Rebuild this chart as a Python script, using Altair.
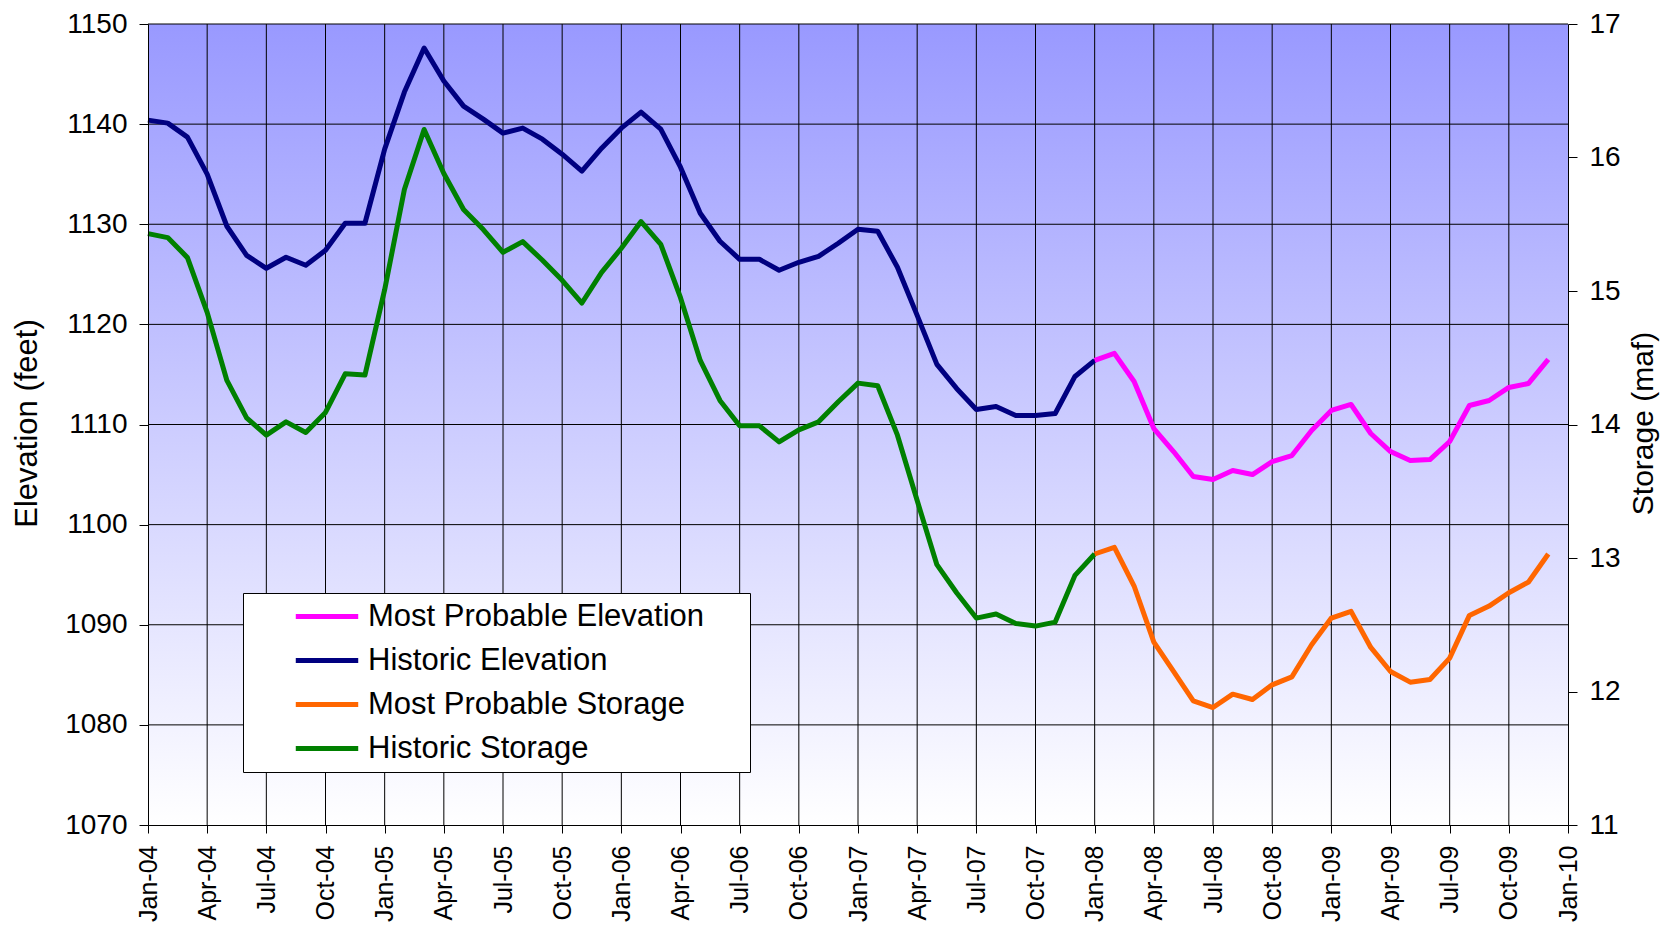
import altair as alt
import pandas as pd

# ---- data ----
month_labels = [d.strftime("%b-%y") for d in pd.date_range("2004-01-01", "2010-01-01", freq="MS")]

hist_elev = [
    1140.4, 1140.1, 1138.7, 1135.0, 1129.8, 1126.9, 1125.6, 1126.7, 1125.9, 1127.4, 1130.1, 1130.1,
    1137.5, 1143.2, 1147.6, 1144.3, 1141.8, 1140.5, 1139.1, 1139.6, 1138.5, 1137.0, 1135.3, 1137.6,
    1139.6, 1141.2, 1139.5, 1135.7, 1131.1, 1128.3, 1126.5, 1126.5, 1125.4, 1126.2, 1126.8, 1128.1,
    1129.5, 1129.3, 1125.7, 1120.9, 1116.0, 1113.6, 1111.5, 1111.8, 1110.9, 1110.9, 1111.1, 1114.8,
    1116.4,
]
prob_elev = [
    1116.4, 1117.1, 1114.3, 1109.6, 1107.3, 1104.8, 1104.5, 1105.4, 1105.0, 1106.3, 1106.9, 1109.4,
    1111.4, 1112.0, 1109.1, 1107.3, 1106.4, 1106.5, 1108.3, 1111.9, 1112.4, 1113.7, 1114.1, 1116.5,
]
hist_stor = [
    15.43, 15.40, 15.25, 14.84, 14.33, 14.05, 13.92, 14.02, 13.94, 14.09, 14.38, 14.37,
    15.01, 15.76, 16.21, 15.88, 15.61, 15.46, 15.29, 15.37, 15.23, 15.08, 14.91, 15.14,
    15.32, 15.52, 15.35, 14.95, 14.48, 14.18, 13.99, 13.99, 13.87, 13.96, 14.02, 14.17,
    14.31, 14.29, 13.92, 13.43, 12.95, 12.74, 12.55, 12.58, 12.51, 12.49, 12.52, 12.87,
    13.03,
]
prob_stor = [
    13.03, 13.08, 12.79, 12.37, 12.15, 11.93, 11.88, 11.98, 11.94, 12.05, 12.11, 12.35,
    12.55, 12.60, 12.33, 12.15, 12.07, 12.09, 12.25, 12.57, 12.64, 12.74, 12.82, 13.03,
]

series_names = ["Most Probable Elevation", "Historic Elevation", "Most Probable Storage", "Historic Storage"]
series_colors = ["#FF00FF", "#000080", "#FF6600", "#008000"]

elev_ticks = [1070, 1080, 1090, 1100, 1110, 1120, 1130, 1140, 1150]
stor_ticks = [11, 12, 13, 14, 15, 16, 17]
n_months = len(month_labels) - 1  # 72 month intervals
quarter_ticks = list(range(0, n_months + 1, 3))
hist_start = 0
prob_start = len(hist_elev) - 1  # Jan-08

# ---- tables ----
elev_df = pd.DataFrame(
    [{"idx": hist_start + i, "value": v, "series": series_names[1]} for i, v in enumerate(hist_elev)]
    + [{"idx": prob_start + i, "value": v, "series": series_names[0]} for i, v in enumerate(prob_elev)]
)
stor_df = pd.DataFrame(
    [{"idx": hist_start + i, "value": v, "series": series_names[3]} for i, v in enumerate(hist_stor)]
    + [{"idx": prob_start + i, "value": v, "series": series_names[2]} for i, v in enumerate(prob_stor)]
)
bounds_df = pd.DataFrame([{"x0": 0, "x1": n_months, "y0": elev_ticks[0], "y1": elev_ticks[-1]}])
vgrid_df = pd.DataFrame({"idx": quarter_ticks[1:-1]})
hgrid_df = pd.DataFrame({"v": elev_ticks[1:]})

FONT = "Liberation Sans"
label_arr = "[" + ",".join("'%s'" % s for s in month_labels) + "]"

x_scale = alt.Scale(domain=[0, n_months], nice=False, zero=False)
ye_scale = alt.Scale(domain=[elev_ticks[0], elev_ticks[-1]], nice=False, zero=False)
ys_scale = alt.Scale(domain=[stor_ticks[0], stor_ticks[-1]], nice=False, zero=False)

x_axis = alt.Axis(
    values=quarter_ticks,
    labelExpr=label_arr + "[datum.value]",
    labelAngle=270, labelAlign="right", labelBaseline="middle",
    labelFontSize=25, labelFont=FONT, labelColor="black",
    labelPadding=12, labelFlush=False, labelOverlap=False,
    tickSize=8, tickColor="black", domainColor="black",
    grid=False, title=None, zindex=1,
)
ye_axis = alt.Axis(
    values=elev_ticks, format="d", orient="left",
    labelFontSize=28, labelFont=FONT, labelColor="black", labelPadding=12,
    labelFlush=False, labelOverlap=False,
    tickSize=9, tickColor="black", domainColor="black", grid=False,
    title="Elevation (feet)", titleFontSize=31, titleFont=FONT, titleFontWeight="normal",
    titleColor="black", titleAngle=270, titleX=-112, titleY=399,
    titleAlign="center", titleBaseline="alphabetic", zindex=1,
)
ys_axis = alt.Axis(
    values=stor_ticks, format="d", orient="right",
    labelFontSize=28, labelFont=FONT, labelColor="black", labelPadding=12,
    labelFlush=False, labelOverlap=False,
    tickSize=9, tickColor="black", domainColor="black", grid=False,
    title="Storage (maf)", titleFontSize=30, titleFont=FONT, titleFontWeight="normal",
    titleColor="black", titleAngle=270, titleX=84, titleY=399,
    titleAlign="center", titleBaseline="alphabetic", zindex=1,
)

# blank trailing characters keep the legend box as wide as the reference's
PAD = "\u00a0\u2009\u2800"
color_scale = alt.Scale(domain=series_names, range=series_colors)
legend = alt.Legend(
    title=None, orient="none", legendX=95, legendY=569,
    symbolType="stroke", symbolSize=3900, symbolStrokeWidth=5,
    clipHeight=31, rowPadding=12, padding=8, symbolOffset=42, labelOffset=7,
    labelFontSize=31, labelFont=FONT, labelColor="black", labelLimit=900,
    labelExpr="datum.label + '" + PAD + "'",
    strokeColor="black", fillColor="white",
)

gradient = alt.LinearGradient(
    gradient="linear",
    stops=[alt.GradientStop(color="#9999FF", offset=0), alt.GradientStop(color="#FFFFFF", offset=1)],
    x1=0, x2=0, y1=0, y2=1,
)

bg = alt.Chart(bounds_df).mark_rect(fill=gradient, stroke=None).encode(
    x=alt.X("x0:Q", scale=x_scale, axis=x_axis),
    x2="x1:Q",
    y=alt.Y("y0:Q", scale=ye_scale, axis=ye_axis),
    y2="y1:Q",
)
vgrid = alt.Chart(vgrid_df).mark_rule(color="black", strokeWidth=1).encode(
    x=alt.X("idx:Q", scale=x_scale, axis=x_axis),
)
hgrid = alt.Chart(hgrid_df).mark_rule(color="black", strokeWidth=1).encode(
    y=alt.Y("v:Q", scale=ye_scale, axis=ye_axis),
)
elev_lines = alt.Chart(elev_df).mark_line(strokeWidth=5, strokeJoin="round").encode(
    x=alt.X("idx:Q", scale=x_scale, axis=x_axis),
    y=alt.Y("value:Q", scale=ye_scale, axis=ye_axis),
    color=alt.Color("series:N", scale=color_scale, legend=legend),
    order="idx:Q",
)
stor_lines = alt.Chart(stor_df).mark_line(strokeWidth=5, strokeJoin="round").encode(
    x=alt.X("idx:Q", scale=x_scale, axis=x_axis),
    y=alt.Y("value:Q", scale=ys_scale, axis=ys_axis),
    color=alt.Color("series:N", scale=color_scale, legend=legend),
    order="idx:Q",
)

chart = (
    alt.layer(alt.layer(bg, vgrid, hgrid, elev_lines), stor_lines)
    .resolve_scale(y="independent")
    .properties(
        width=1420, height=801,
        autosize=alt.AutoSizeParams(type="none"),
        padding={"left": 140, "top": 16, "right": 92, "bottom": 97},
        background="white",
    )
    .configure_view(stroke="black", strokeWidth=1)
    .configure(font=FONT)
)

chart.save("out.html", embed_options={"renderer": "svg", "actions": False})
